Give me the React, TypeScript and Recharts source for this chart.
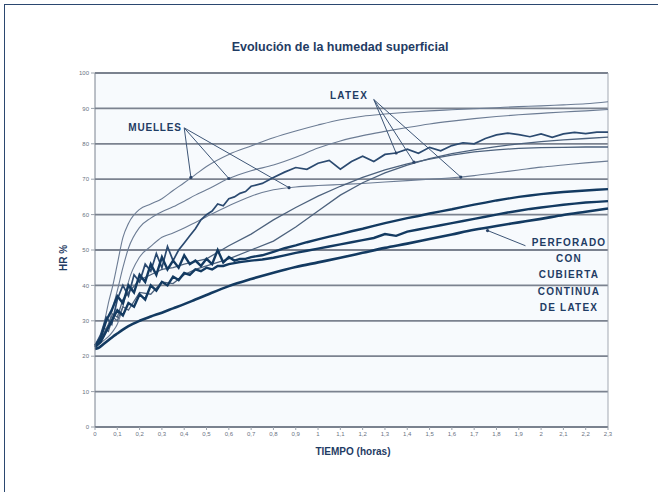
import React from 'react';
import { LineChart, Line, XAxis, YAxis, CartesianGrid, ReferenceLine, ReferenceDot } from 'recharts';

// Ejes
const X_TICKS = [0, 0.1, 0.2, 0.3, 0.4, 0.5, 0.6, 0.7, 0.8, 0.9, 1, 1.1, 1.2, 1.3, 1.4, 1.5, 1.6, 1.7, 1.8, 1.9, 2, 2.1, 2.2, 2.3];
const Y_TICKS = [0, 10, 20, 30, 40, 50, 60, 70, 80, 90, 100];

// Tiempos de lectura (horas)
const T_SMOOTH = [0, 0.02, 0.04, 0.06, 0.08, 0.1, 0.125, 0.15, 0.2, 0.25, 0.3, 0.35, 0.4, 0.45, 0.5, 0.6, 0.7, 0.8, 0.9, 1, 1.1, 1.2, 1.3, 1.4, 1.5, 1.6, 1.7, 1.8, 1.9, 2, 2.1, 2.2, 2.3];
const T_NOISY = [
  0, 0.025, 0.05, 0.075, 0.1, 0.125, 0.15, 0.175, 0.2, 0.225, 0.25, 0.275, 0.3, 0.325, 0.35, 0.375, 0.4, 0.425, 0.45, 0.475, 0.5,
  0.525, 0.55, 0.575, 0.6, 0.625, 0.65, 0.675, 0.7, 0.75, 0.8, 0.85, 0.9, 0.95, 1, 1.05, 1.1, 1.15, 1.2, 1.25, 1.3, 1.35, 1.4,
  1.45, 1.5, 1.55, 1.6, 1.65, 1.7, 1.75, 1.8, 1.85, 1.9, 1.95, 2, 2.05, 2.1, 2.15, 2.2, 2.25, 2.3,
];

// HR % - colchones de muelles (T_SMOOTH)
const muelles1 = [23, 25, 29, 35, 40, 46, 53.5, 57.5, 61.5, 63, 64.5, 66.8, 69, 71.3, 73.6, 77, 79.4, 81.7, 83.6, 85.3, 86.8, 87.8, 88.4, 88.9, 89.3, 89.6, 89.9, 90.2, 90.5, 90.7, 91, 91.3, 91.9];
const muelles2 = [23, 24, 25.5, 28.5, 33.8, 38.5, 45, 50.5, 56.4, 59, 60.8, 62.2, 63.8, 65.5, 67, 70.2, 72.4, 74, 76.2, 78.8, 80.8, 82.3, 83.5, 84.6, 85.6, 86.4, 87.1, 87.7, 88.2, 88.6, 89, 89.3, 89.7];
const muelles3 = [23, 23.5, 24.5, 25.5, 27, 29, 34, 41, 48, 51, 53.6, 54.8, 56.2, 57.8, 59.4, 62.5, 65.2, 67, 67.8, 68.2, 68.5, 68.8, 69.2, 69.6, 70, 70.4, 71, 71.8, 72.6, 73.4, 74, 74.6, 75.1];

// HR % - latex
const latex1 = [
  23, 26, 31, 29, 36, 40, 37, 43, 41, 46, 44, 49, 45, 51, 47, 50, 52, 54, 56, 58.5, 60, 61, 63, 62.5, 64.5, 65, 66, 66.5, 68,
  68.8, 70.5, 72, 73.3, 72.8, 74.5, 75.3, 72.8, 75, 76.5, 75, 77, 77.4, 78.5, 77.3, 79, 78, 79.5, 80.3, 80, 81.5, 82.5, 83, 82.6,
  82, 82.8, 81.8, 82.8, 83.2, 82.9, 83.3, 83.3,
]; // T_NOISY
const latex2 = [23, 25, 28, 27, 31, 30, 34, 33, 38, 37.5, 41, 40.5, 43, 44.5, 45.5, 47.5, 50, 52.5, 56.5, 61, 65.5, 69, 71.8, 74, 75.8, 77.2, 78.3, 79.2, 80, 80.6, 81.1, 81.5, 81.9];
const latex3 = [23, 24, 26.5, 29, 32, 31, 36, 38, 41.5, 43, 44.5, 45, 46, 46.8, 47.5, 51.2, 54.5, 58.5, 62, 65.2, 68, 70.5, 72.6, 74.3, 75.7, 76.8, 77.7, 78.3, 78.7, 78.9, 79, 79.1, 79.1];

// HR % - perforado con cubierta continua de latex
const perforado1 = [
  23, 25, 30, 33, 37, 35, 40, 38, 43, 41, 46, 43, 48, 44.5, 47, 45, 48.5, 46, 47, 45.5, 47.5, 46, 50, 46.5, 48, 47, 47.5, 47.5, 48,
  48.5, 49.5, 50.5, 51.3, 52.2, 53, 53.8, 54.5, 55.3, 56, 56.8, 57.6, 58.3, 59, 59.6, 60.3, 60.9, 61.5, 62.2, 62.8, 63.4, 64, 64.5,
  65, 65.4, 65.8, 66.1, 66.4, 66.6, 66.8, 67, 67.2,
]; // T_NOISY
const perforado2 = [
  22.5, 24, 27, 30, 33, 31.5, 35, 34, 37.5, 36, 40, 38.5, 41, 40, 42.5, 41.5, 43.5, 43, 44.5, 44, 45, 44.5, 45.5, 45.5, 46, 46.3,
  46.6, 46.8, 47, 47.3, 47.8, 48.5, 49.2, 49.8, 50.4, 51, 51.6, 52.2, 52.8, 53.4, 54.5, 54, 55.2, 55.8, 56.4, 57, 57.6, 58.2, 58.8,
  59.4, 60, 60.6, 61.1, 61.6, 62, 62.4, 62.8, 63.1, 63.4, 63.6, 63.8,
]; // T_NOISY
const perforado3 = [22, 22.5, 23.5, 24.5, 25.5, 26.4, 27.5, 28.5, 30, 31.2, 32.3, 33.5, 34.7, 36, 37.3, 39.8, 41.8, 43.6, 45.2, 46.5, 47.8, 49.2, 50.6, 51.8, 53.1, 54.4, 55.7, 56.8, 57.8, 58.8, 59.9, 60.8, 61.7];

// flechas de las etiquetas (en unidades de los ejes)
const MUELLES_FROM = { x: 0.4, y: 84.5 };
const MUELLES_TO = [{ x: 0.43, y: 70.5 }, { x: 0.6, y: 70.2 }, { x: 0.87, y: 67.6 }];
const LATEX_FROM = { x: 1.25, y: 92.5 };
const LATEX_TO = [{ x: 1.35, y: 77.4 }, { x: 1.43, y: 74.8 }, { x: 1.64, y: 70.6 }];
const PERF_FROM = { x: 1.93, y: 51.2 };
const PERF_TO = [{ x: 1.76, y: 55.5 }];

const pts = (ts: number[], vs: number[]) => ts.map((t, i) => ({ t, v: vs[i] }));

const THIN = '#6c7c94';
const MID = '#2b4a70';
const THICK = '#133a61';
const NAVY = '#1f3c64';
const GRID = '#7b828f';
const FONT = '"Liberation Sans", Arial, sans-serif';

const series = [
  { key: 'muelles1', data: pts(T_SMOOTH, muelles1), color: THIN, width: 1.1, type: 'monotone' },
  { key: 'muelles2', data: pts(T_SMOOTH, muelles2), color: THIN, width: 1.1, type: 'monotone' },
  { key: 'muelles3', data: pts(T_SMOOTH, muelles3), color: THIN, width: 1.1, type: 'monotone' },
  { key: 'latex2', data: pts(T_SMOOTH, latex2), color: '#4d627d', width: 1.3, type: 'linear' },
  { key: 'latex3', data: pts(T_SMOOTH, latex3), color: '#4d627d', width: 1.3, type: 'linear' },
  { key: 'latex1', data: pts(T_NOISY, latex1), color: MID, width: 1.7, type: 'linear' },
  { key: 'perforado3', data: pts(T_SMOOTH, perforado3), color: THICK, width: 2.6, type: 'monotone' },
  { key: 'perforado2', data: pts(T_NOISY, perforado2), color: THICK, width: 2.4, type: 'linear' },
  { key: 'perforado1', data: pts(T_NOISY, perforado1), color: THICK, width: 2.4, type: 'linear' },
];

const arrows = (from: { x: number; y: number }, tos: { x: number; y: number }[], id: string) =>
  tos.flatMap((to, i) => [
    <ReferenceLine key={`${id}l${i}`} segment={[from, to]} stroke="#3d5576" strokeWidth={1} />,
    <ReferenceDot key={`${id}d${i}`} x={to.x} y={to.y} r={1.6} fill="#2b4468" stroke="none" />,
  ]);

const text = (style: React.CSSProperties) => ({
  position: 'absolute' as const,
  fontFamily: FONT,
  fontWeight: 700,
  color: NAVY,
  whiteSpace: 'nowrap' as const,
  ...style,
});

const App = () => {
  return (
    <div style={{ position: 'absolute', left: 0, top: 0, width: 658, height: 492, overflow: 'hidden', background: '#fff' }}>
      <div style={{ position: 'absolute', left: 4, top: 4, width: 700, height: 600, borderTop: '1.5px solid #2b4870', borderLeft: '1.5px solid #2b4870' }} />
      <LineChart width={658} height={492} margin={{ top: 73, right: 50, bottom: 45, left: 75 }}>
        <CartesianGrid vertical={false} stroke={GRID} strokeWidth={1.8} fill="#f7fafd" />
        <XAxis
          type="number"
          dataKey="t"
          domain={[0, 2.3]}
          ticks={X_TICKS}
          interval={0}
          height={20}
          tickFormatter={(v: number) => String(v).replace('.', ',')}
          tick={{ fontSize: 6, fill: '#6a7282', fontFamily: FONT }}
          tickSize={3}
          axisLine={{ stroke: GRID }}
          tickLine={{ stroke: '#9aa1ab' }}
        />
        <YAxis
          type="number"
          domain={[0, 100]}
          ticks={Y_TICKS}
          interval={0}
          width={20}
          tick={{ fontSize: 6, fill: '#6a7282', fontFamily: FONT }}
          tickSize={4}
          axisLine={{ stroke: GRID }}
          tickLine={{ stroke: '#9aa1ab' }}
        />
        <ReferenceLine x={2.3} stroke="#a3a9b2" strokeWidth={1} />
        {series.map((s) => (
          <Line
            key={s.key}
            data={s.data}
            dataKey="v"
            type={s.type as any}
            stroke={s.color}
            strokeWidth={s.width}
            dot={false}
            activeDot={false}
            isAnimationActive={false}
          />
        ))}
        {arrows(MUELLES_FROM, MUELLES_TO, 'm')}
        {arrows(LATEX_FROM, LATEX_TO, 'l')}
        {arrows(PERF_FROM, PERF_TO, 'p')}
      </LineChart>

      <div style={text({ left: 0, width: 680, top: 40, textAlign: 'center', fontSize: 12.5 })}>Evolución de la humedad superficial</div>
      <div style={text({ left: 0, width: 706, top: 446, textAlign: 'center', fontSize: 10 })}>TIEMPO (horas)</div>
      <div style={text({ left: 63, top: 258, fontSize: 10, transform: 'translate(-50%, -50%) rotate(-90deg)' })}>HR %</div>
      <div style={text({ left: 155, top: 127, fontSize: 10, letterSpacing: 0.8, transform: 'translate(-50%, -50%)' })}>MUELLES</div>
      <div style={text({ left: 349, top: 95, fontSize: 10, letterSpacing: 1.2, transform: 'translate(-50%, -50%)' })}>LATEX</div>
      <div style={text({ left: 569, top: 235, fontSize: 10, letterSpacing: 1.2, lineHeight: '16.2px', textAlign: 'center', transform: 'translateX(-50%)' })}>
        PERFORADO<br />CON<br />CUBIERTA<br />CONTINUA<br />DE LATEX
      </div>
    </div>
  );
};

export default App;
